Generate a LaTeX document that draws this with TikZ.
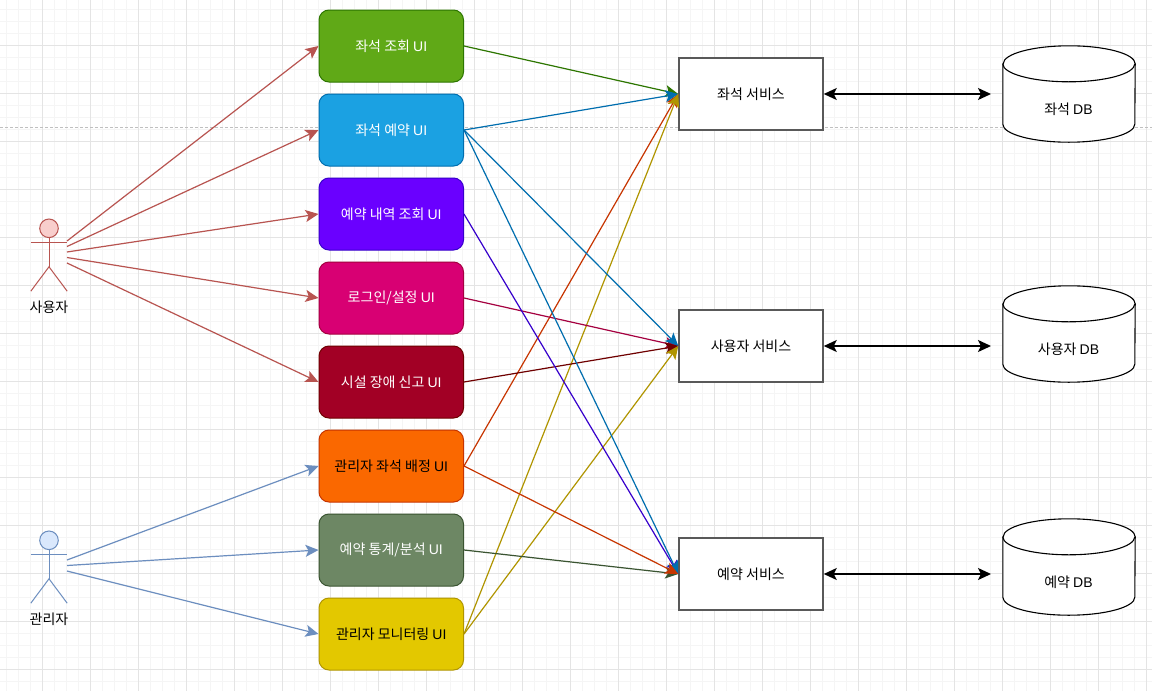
\documentclass[tikz,border=0pt]{standalone}
\usepackage{fontspec}
\setmainfont{Noto Sans CJK KR}
\newfontfamily\latf{Liberation Sans}
\usetikzlibrary{arrows.meta}
\newcommand{\UIt}{{\latf UI}}
\newcommand{\DBt}{{\latf DB}}
\newcommand{\ut}[1]{\raisebox{.7pt}{#1}}
\definecolor{rl}{HTML}{B85450}\definecolor{rf}{HTML}{F8CECC}
\definecolor{bl}{HTML}{6C8EBF}\definecolor{bf}{HTML}{DAE8FC}
\definecolor{gridmin}{HTML}{F5F5F5}\definecolor{gridmaj}{HTML}{E4E4E4}
\definecolor{c1f}{HTML}{60A917}\definecolor{c1l}{HTML}{2D7600}
\definecolor{c2f}{HTML}{1BA1E2}\definecolor{c2l}{HTML}{006EAF}
\definecolor{c3f}{HTML}{6A00FF}\definecolor{c3l}{HTML}{3700CC}
\definecolor{c4f}{HTML}{D80073}\definecolor{c4l}{HTML}{A50040}
\definecolor{c5f}{HTML}{A20025}\definecolor{c5l}{HTML}{6F0000}
\definecolor{c6f}{HTML}{FA6800}\definecolor{c6l}{HTML}{C73500}
\definecolor{c7f}{HTML}{6D8764}\definecolor{c7l}{HTML}{3A5431}
\definecolor{c8f}{HTML}{E3C800}\definecolor{c8l}{HTML}{B09500}
\tikzset{
  txt/.style={font=\fontsize{14}{16}\selectfont},
  uibox/.style={txt,rectangle,rounded corners=10pt,minimum width=144.5pt,minimum height=72pt,inner sep=0pt,line width=1pt,text=white,anchor=center},
  svcbox/.style={txt,rectangle,draw=black!65,line width=1.5pt,fill=white,minimum width=144pt,minimum height=72pt,inner sep=0pt},
  dbbox/.style={txt,rectangle,minimum width=132pt,minimum height=96pt,inner sep=0pt},
  actorbox/.style={rectangle,minimum width=36pt,minimum height=72pt,inner sep=0pt},
  lbl/.style={txt,inner sep=0pt},
  conn/.style={line width=1.2pt,-{Stealth[length=13pt,width=12pt,inset=3pt]}},
  both/.style={line width=1.5pt,black,{Stealth[length=13pt,width=12pt,inset=3pt]}-{Stealth[length=13pt,width=12pt,inset=3pt]}},
  actorline/.style={line width=1pt},
}
\newcommand{\dbshape}[1]{%
  \draw[black,line width=1.1pt,fill=white]
    ([yshift=-18pt]#1.north west) -- ([yshift=18pt]#1.south west)
    arc[start angle=180,end angle=360,x radius=66pt,y radius=18pt]
    -- ([yshift=-18pt]#1.north east)
    arc[start angle=0,end angle=180,x radius=66pt,y radius=18pt] -- cycle;
  \draw[black,line width=1.1pt]
    ([yshift=-18pt]#1.north west) arc[start angle=180,end angle=360,x radius=66pt,y radius=18pt];
}
\begin{document}
\begin{tikzpicture}[x=1pt,y=-1pt]
\useasboundingbox (0,0) rectangle (1152,691);
\fill[white] (0,0) rectangle (1152,691);
% grid
\foreach \i in {0,...,95}{\draw[gridmin,line width=.8pt] ({6+12*\i},0) -- ({6+12*\i},691);}
\foreach \i in {0,...,57}{\draw[gridmin,line width=.8pt] (0,{9+12*\i}) -- (1152,{9+12*\i});}
\foreach \i in {0,...,23}{\draw[gridmaj,line width=.8pt] ({42+48*\i},0) -- ({42+48*\i},691);}
\foreach \i in {0,...,14}{\draw[gridmaj,line width=.8pt] (0,{45+48*\i}) -- (1152,{45+48*\i});}
\draw[black!25,line width=.8pt,dash pattern=on 3pt off 2pt] (0,127) -- (1152,127);

% UI boxes
\node[uibox,fill=c1f,draw=c1l] (ui1) at (391.25,46) {\ut{좌석 조회 \UIt}};
\node[uibox,fill=c2f,draw=c2l] (ui2) at (391.25,130) {\ut{좌석 예약 \UIt}};
\node[uibox,fill=c3f,draw=c3l] (ui3) at (391.25,214) {\ut{예약 내역 조회 \UIt}};
\node[uibox,fill=c4f,draw=c4l] (ui4) at (391.25,298) {\ut{로그인/설정 \UIt}};
\node[uibox,fill=c5f,draw=c5l] (ui5) at (391.25,382) {\ut{시설 장애 신고 \UIt}};
\node[uibox,fill=c6f,draw=c6l,text=black] (ui6) at (391.25,466) {\ut{관리자 좌석 배정 \UIt}};
\node[uibox,fill=c7f,draw=c7l] (ui7) at (391.25,550) {\ut{예약 통계/분석 \UIt}};
\node[uibox,fill=c8f,draw=c8l,text=black] (ui8) at (391.25,634) {\ut{관리자 모니터링 \UIt}};

% services
\node[svcbox] (svA) at (751,94) {좌석 서비스};
\node[svcbox] (svB) at (751,346) {사용자 서비스};
\node[svcbox] (svC) at (751,574) {예약 서비스};

% databases
\node[dbbox] (dbA) at (1069,94) {};
\node[dbbox] (dbB) at (1069,334) {};
\node[dbbox] (dbC) at (1069,567) {};
\dbshape{dbA}\dbshape{dbB}\dbshape{dbC}
\node[lbl] (dbAt) at (1068.5,109) {좌석 \DBt};
\node[lbl] (dbBt) at (1068.5,349.5) {사용자 \DBt};
\node[lbl] (dbCt) at (1068.5,582) {예약 \DBt};
\coordinate (dbAin) at (991,94);
\coordinate (dbBin) at (991,346);
\coordinate (dbCin) at (991,574);

% actors
\node[actorbox] (actU) at (49,255) {};
\node[actorbox] (actM) at (49,567) {};
\foreach \a/\ln/\fl in {actU/rl/rf,actM/bl/bf}{
  \draw[\ln,actorline,fill=\fl] ([yshift=-9.5pt]\a.north) circle[radius=9.3pt];
  \draw[\ln,actorline] ([yshift=-19pt]\a.north) -- ([yshift=-48pt]\a.north);
  \draw[\ln,actorline] ([yshift=-24pt]\a.north west) -- ([yshift=-24pt]\a.north east);
  \draw[\ln,actorline] (\a.south west) -- ([yshift=-48pt]\a.north) -- (\a.south east);
}
\node[lbl] (actUt) at (49,307.5) {사용자};
\node[lbl] (actMt) at (49,619.5) {관리자};

\coordinate (u1) at (67,241);
\coordinate (u2) at (67,246.5);
\coordinate (u3) at (67,252);
\coordinate (u4) at (67,257.5);
\coordinate (u5) at (67,263);
\coordinate (m1) at (67,560);
\coordinate (m2) at (67,565.5);
\coordinate (m3) at (67,571);

% actor connectors
\draw[conn,rl] (u1) -- (ui1.west);
\draw[conn,rl] (u2) -- (ui2.west);
\draw[conn,rl] (u3) -- (ui3.west);
\draw[conn,rl] (u4) -- (ui4.west);
\draw[conn,rl] (u5) -- (ui5.west);
\draw[conn,bl] (m1) -- (ui6.west);
\draw[conn,bl] (m2) -- (ui7.west);
\draw[conn,bl] (m3) -- (ui8.west);

% service connectors
\draw[conn,c1l] (ui1.east) -- (svA.west);
\draw[conn,c6l] (ui6.east) -- (svA.west);
\draw[conn,c2l] (ui2.east) -- (svA.west);
\draw[conn,c8l] (ui8.east) -- (svA.west);
\draw[conn,c4l] (ui4.east) -- (svB.west);
\draw[conn,c2l] (ui2.east) -- (svB.west);
\draw[conn,c5l] (ui5.east) -- (svB.west);
\draw[conn,c8l] (ui8.east) -- (svB.west);
\draw[conn,c7l] (ui7.east) -- (svC.west);
\draw[conn,c3l] (ui3.east) -- (svC.west);
\draw[conn,c2l] (ui2.east) -- (svC.west);
\draw[conn,c6l] (ui6.east) -- (svC.west);

% service - db
\draw[both] (svA.east) -- (dbAin);
\draw[both] (svB.east) -- (dbBin);
\draw[both] (svC.east) -- (dbCin);
\end{tikzpicture}
\end{document}
